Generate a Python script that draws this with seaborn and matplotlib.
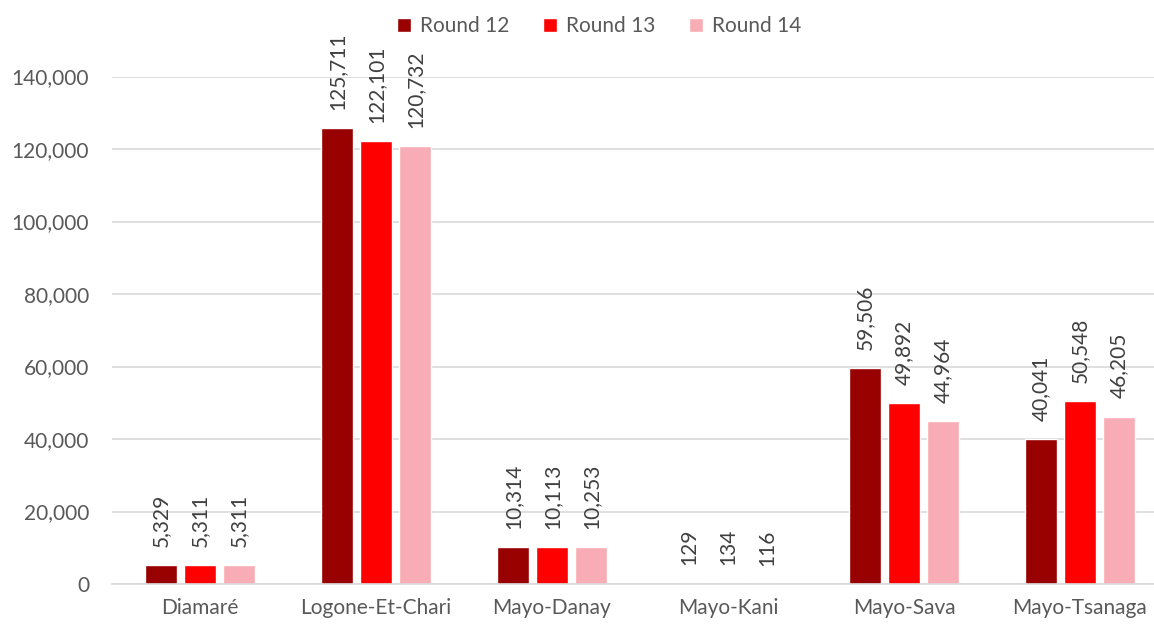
import matplotlib
matplotlib.use("Agg")
import matplotlib.pyplot as plt
import seaborn as sns
import pandas as pd
from matplotlib.ticker import FuncFormatter

categories = ["Diamaré", "Logone-Et-Chari", "Mayo-Danay", "Mayo-Kani", "Mayo-Sava", "Mayo-Tsanaga"]
rounds = ["Round 12", "Round 13", "Round 14"]
round12 = [5329, 125711, 10314, 129, 59506, 40041]
round13 = [5311, 122101, 10113, 134, 49892, 50548]
round14 = [5311, 120732, 10253, 116, 44964, 46205]
colors = ["#990000", "#FF0000", "#F8ACB5"]

rows = []
for r, vals in zip(rounds, [round12, round13, round14]):
    for c, v in zip(categories, vals):
        rows.append({"cat": c, "round": r, "value": v})
df = pd.DataFrame(rows)

sns.set_theme(style="white")
plt.rcParams['font.family'] = ['Lato', 'DejaVu Sans']

fig = plt.figure(figsize=(11.54, 6.26), dpi=100)
ax = fig.add_axes([112/1154, 1-584/626, 1056/1154, (584-76.5)/626])

sns.barplot(data=df, x="cat", y="value", hue="round", palette=colors,
            width=0.665, gap=0.2, ax=ax, saturation=1, errorbar=None, legend=True)

ax.set_xlim(-0.5, 5.5)
ax.set_ylim(0, 140000)
ax.set_yticks(range(0, 140001, 20000))
ax.yaxis.set_major_formatter(FuncFormatter(lambda v, p: f"{int(v):,}"))
ax.grid(axis="y", color="#D9D9D9", linewidth=1.2)
ax.set_axisbelow(True)
for s in ["top", "right", "left"]:
    ax.spines[s].set_visible(False)
ax.spines["bottom"].set_color("#D9D9D9")
ax.spines["bottom"].set_linewidth(1.2)
ax.tick_params(axis="both", length=0, labelsize=15, colors="#595959")
ax.tick_params(axis="y", pad=16.5)
ax.tick_params(axis="x", pad=10)
ax.set_xlabel("")
ax.set_ylabel("")

for cont in ax.containers:
    ax.bar_label(cont, labels=[f"{int(v):,}" for v in cont.datavalues], rotation=90,
                 padding=13, fontsize=15, color="#404040", clip_on=False)

leg = ax.legend(loc="center", bbox_to_anchor=((599-112)/1056, 1 + 50/507.5), ncol=3,
                frameon=False, fontsize=15, handlelength=0.67, handleheight=0.67,
                columnspacing=1.6, handletextpad=0.45, labelcolor="#595959",
                borderaxespad=0, borderpad=0)

fig.savefig("out.png", dpi=100)
